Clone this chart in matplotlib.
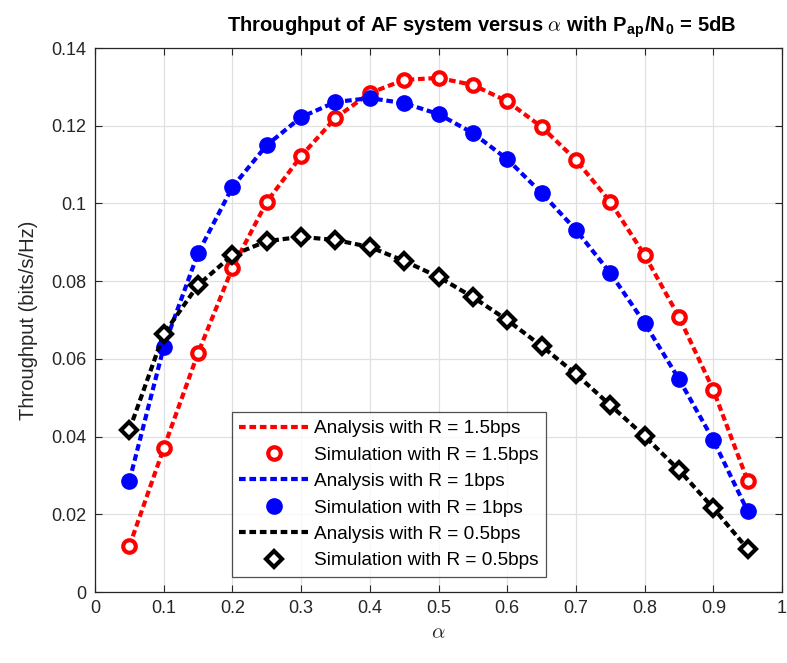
import numpy as np
import matplotlib
matplotlib.use("Agg")
import matplotlib.pyplot as plt

plt.rcParams["font.family"] = ["Liberation Sans", "DejaVu Sans"]
plt.rcParams["mathtext.fontset"] = "cm"

alpha = [0.05, 0.10, 0.15, 0.20, 0.25, 0.30, 0.35, 0.40, 0.45, 0.50,
         0.55, 0.60, 0.65, 0.70, 0.75, 0.80, 0.85, 0.90, 0.95]

thr_r15 = [0.0118, 0.0370, 0.0615, 0.0834, 0.1004, 0.1122, 0.1220, 0.1284, 0.1318, 0.1323,
           0.1305, 0.1263, 0.1197, 0.1112, 0.1004, 0.0867, 0.0708, 0.0520, 0.0286]
thr_r10 = [0.0286, 0.0630, 0.0872, 0.1042, 0.1150, 0.1222, 0.1261, 0.1271, 0.1258, 0.1230,
           0.1181, 0.1114, 0.1027, 0.0932, 0.0821, 0.0692, 0.0548, 0.0391, 0.0208]
thr_r05 = [0.0417, 0.0664, 0.0790, 0.0867, 0.0903, 0.0914, 0.0906, 0.0888, 0.0852, 0.0811,
           0.0759, 0.0700, 0.0633, 0.0561, 0.0481, 0.0401, 0.0314, 0.0216, 0.0111]

xticks = [0, 0.1, 0.2, 0.3, 0.4, 0.5, 0.6, 0.7, 0.8, 0.9, 1]
yticks = [0, 0.02, 0.04, 0.06, 0.08, 0.1, 0.12, 0.14]

fig = plt.figure(figsize=(7.87, 6.63), dpi=100)
ax = fig.add_axes([0.1207, 0.107, 0.8730, 0.8206])

dash = (0, (1.6, 0.9))
ax.plot(alpha, thr_r15, color="red", lw=3, linestyle=dash, label="Analysis with R = 1.5bps")
ax.plot(alpha, thr_r15, "o", color="red", mfc="white", mec="red", mew=3, ms=9,
        label="Simulation with R = 1.5bps")
ax.plot(alpha, thr_r10, color="blue", lw=3, linestyle=dash, label="Analysis with R = 1bps")
ax.plot(alpha, thr_r10, "o", color="blue", mfc="blue", mec="blue", ms=11,
        label="Simulation with R = 1bps")
ax.plot(alpha, thr_r05, color="black", lw=3, linestyle=dash, label="Analysis with R = 0.5bps")
ax.plot(alpha, thr_r05, "D", color="black", mfc="white", mec="black", mew=3, ms=8,
        label="Simulation with R = 0.5bps")

ax.set_xlim(0, 1)
ax.set_ylim(0, 0.14)
ax.set_xticks(xticks)
ax.set_xticklabels([f"{v:g}" for v in xticks])
ax.set_yticks(yticks)
ax.set_yticklabels([f"{v:g}" for v in yticks])
ax.tick_params(direction="in", length=5, width=0.8, colors="#262626", labelsize=13,
               top=True, right=True, pad=6)
ax.grid(True, color="#e0e0e0", lw=0.9)
ax.set_axisbelow(True)
for s in ax.spines.values():
    s.set_color("#262626")
    s.set_linewidth(0.9)

ax.set_xlabel(r"$\alpha$", fontsize=15, color="#262626")
ax.set_ylabel("Throughput (bits/s/Hz)", fontsize=14.5, color="#262626", labelpad=10)
ax.set_title(r"Throughput of AF system versus $\alpha$ with P$_\mathregular{ap}$/N$_\mathregular{0}$ = 5dB",
             fontsize=14.5, fontweight="bold", pad=12, x=0.563)

leg = ax.legend(loc="lower left", bbox_to_anchor=(0.199, 0.0275), fontsize=13.7,
                frameon=True, fancybox=False, edgecolor="#262626", handlelength=3.6,
                borderpad=0.4, labelspacing=0.48, handletextpad=0.3, borderaxespad=0)
leg.get_frame().set_linewidth(0.9)

fig.savefig("out.png", dpi=100)
